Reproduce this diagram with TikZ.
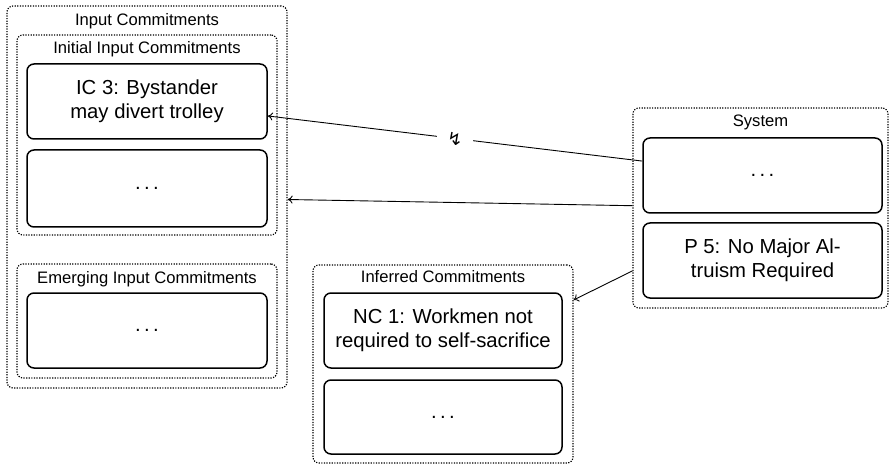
\documentclass[tikz,border=0pt]{standalone}
\usepackage{fontspec}
\setmainfont{Liberation Sans}
\newfontfamily\symfont{DejaVu Sans}
\usetikzlibrary{arrows.meta}

\begin{document}
\begin{tikzpicture}[x=1pt,y=-1pt]
        \tikzstyle{every node}+=[inner sep=0pt]
        \tikzstyle{group}=[draw=black, line width=1.2pt, dash pattern=on 1.2pt off 1.4pt, rounded corners=6pt]
        \tikzstyle{item}=[draw=black, line width=1.5pt, rounded corners=7pt, minimum width=240pt, minimum height=75pt, align=center, font=\fontsize{20.3}{23.5}\selectfont]
        \tikzstyle{title}=[anchor=base, font=\fontsize{16.6}{18}\selectfont]
        \tikzstyle{link}=[draw=black, line width=0.9pt, -{To[length=5pt,width=8pt]}]
        \useasboundingbox (0,0) rectangle (889,465);
        % input commitments
        \node (inputs) at (147,197) [group, minimum width=280pt, minimum height=382pt] {};
        \node (inputsTitle) at (147,25.3) [title] {Input Commitments};
        \node (initial) at (147,135) [group, minimum width=260pt, minimum height=200pt] {};
        \node (initialTitle) at (147,54) [title] {Initial Input Commitments};
        \node (ic3) at (147,101.5) [item] {IC 3: Bystander\\may divert trolley};
        \node (icDots) at (147,188.5) [item, minimum height=77pt] {.\,.\,.};
        \node (emerging) at (147,321) [group, minimum width=260pt, minimum height=114pt] {};
        \node (emergingTitle) at (147,283.3) [title] {Emerging Input Commitments};
        \node (ecDots) at (147,330.5) [item] {.\,.\,.};
        % system
        \node (system) at (760.5,208) [group, minimum width=255pt, minimum height=200pt] {};
        \node (systemTitle) at (760.5,127) [title] {System};
        \node (sDots) at (762.5,175.5) [item, minimum width=239pt] {.\,.\,.};
        \node (p5) at (762.5,260.5) [item, minimum width=239pt] {P 5: No Major Al-\\truism Required};
        % inferred commitments
        \node (inferred) at (443,364) [group, minimum width=260pt, minimum height=198pt] {};
        \node (inferredTitle) at (443,282.3) [title] {Inferred Commitments};
        \node (nc1) at (443,330.5) [item, minimum width=238pt] {NC 1: Workmen not\\required to self-sacrifice};
        \node (ncDots) at (443,417) [item, minimum width=238pt, minimum height=74pt] {.\,.\,.};
        % connectors
        \draw [link] (sDots) -- node [fill=white, inner xsep=10pt, inner ysep=2pt] {\symfont\fontsize{18}{18}\selectfont ↯} (ic3);
        \draw [link] (system) -- (inputs);
        \draw [link] (system) -- (inferred);
\end{tikzpicture}
\end{document}
